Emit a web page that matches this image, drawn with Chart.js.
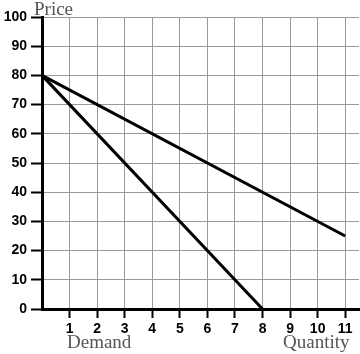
<!DOCTYPE html>
<html>
<head>
<meta charset="utf-8">
<script src="https://cdn.jsdelivr.net/npm/chart.js@4"></script>
<style>
  html, body { margin:0; padding:0; background:#fff; }
  #wrap { position:relative; width:360px; height:354px; }
  canvas { position:absolute; left:0; top:0; }
  .lbl { position:absolute; font-family:"Liberation Serif","DejaVu Serif",serif; font-size:19px; color:#555; white-space:nowrap; line-height:1; }
</style>
</head>
<body>
<div id="wrap">
  <canvas id="c" width="360" height="354"></canvas>
  <div class="lbl" style="left:34px; top:-1px;">Price</div>
  <div class="lbl" style="left:67px; top:332px;">Demand</div>
  <div class="lbl" style="left:283px; top:332px;">Quantity</div>
</div>
<script>
const xTicks = [1,2,3,4,5,6,7,8,9,10,11];
const yTicks = [0,10,20,30,40,50,60,70,80,90,100];
const demandQty = [0, 11];
const demandPrice = [80, 25];
const mrQty = [0, 8];
const mrPrice = [80, 0];

const toPts = (xs, ys) => xs.map((x, i) => ({x, y: ys[i]}));

new Chart(document.getElementById('c'), {
  type: 'line',
  data: {
    datasets: [
      { label: 'Demand', data: toPts(demandQty, demandPrice), borderColor: '#000', borderWidth: 3, pointRadius: 0, fill: false, clip: false },
      { label: 'Marginal revenue', data: toPts(mrQty, mrPrice), borderColor: '#000', borderWidth: 3, pointRadius: 0, fill: false, clip: false }
    ]
  },
  options: {
    responsive: false,
    animation: false,
    events: [],
    layout: { padding: { top: 17, right: 1, left: 0, bottom: 0 } },
    plugins: { legend: { display: false }, tooltip: { enabled: false } },
    scales: {
      x: {
        type: 'linear', min: 0, max: 11.5,
        afterBuildTicks: s => { s.ticks = xTicks.map(v => ({value: v})); },
        afterFit: s => { s.height = 45; },
        grid: { color: '#999', borderDash: [1, 1], lineWidth: 1, drawTicks: true, tickLength: 9, tickColor: '#000', tickWidth: 2, tickBorderDash: [] },
        border: { display: true, color: '#000', width: 3 },
        ticks: { color: '#000', padding: 3, maxRotation: 0, font: { family: 'Liberation Sans, Arial, sans-serif', weight: 'bold', size: 14 } }
      },
      y: {
        type: 'linear', min: 0, max: 100,
        afterBuildTicks: s => { s.ticks = yTicks.map(v => ({value: v})); },
        afterFit: s => { s.width = 42; },
        grid: { color: '#999', borderDash: [1, 1], lineWidth: 1, drawTicks: true, tickLength: 11, tickColor: '#000', tickWidth: 2, tickBorderDash: [] },
        border: { display: true, color: '#000', width: 3 },
        ticks: { color: '#000', padding: 4, font: { family: 'Liberation Sans, Arial, sans-serif', weight: 'bold', size: 14 } }
      }
    }
  }
});
</script>
</body>
</html>
